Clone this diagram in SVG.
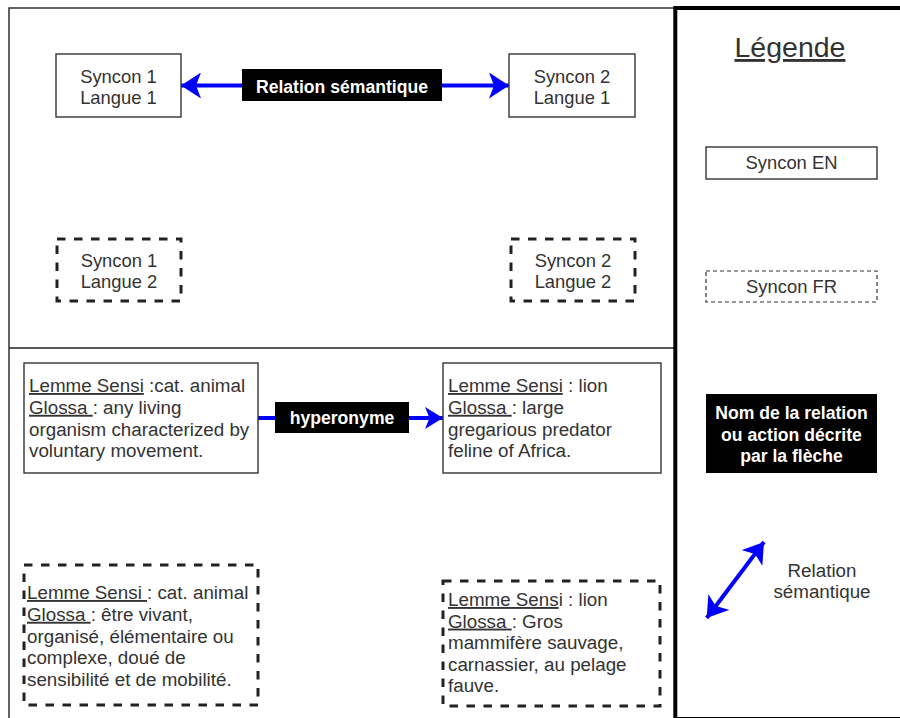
<svg xmlns="http://www.w3.org/2000/svg" width="900" height="718" viewBox="0 0 900 718">
<style>
text{font-family:"Liberation Sans",Arial,sans-serif;}
.t{fill:#333;font-size:18.4px;}
.b{fill:#333;font-size:18.8px;}
.w{fill:#fff;font-weight:bold;font-size:17.6px;}
.u{text-decoration:underline;}
.box{fill:#fff;stroke:#333;stroke-width:1.4;}
.dbox{fill:#fff;stroke:#222;stroke-width:3;stroke-dasharray:8.5 8.5;}
.lbl{fill:#000;stroke:none;}
.conn{stroke:#0000ff;stroke-width:4;fill:none;}
</style>
<defs>
<marker id="ah" viewBox="0 0 20 26" refX="20" refY="13" markerWidth="20" markerHeight="26" markerUnits="userSpaceOnUse" orient="auto-start-reverse">
<path d="M0,0 L20,13 L0,26 L5,13 Z" fill="#0000ff"/>
</marker>
<marker id="ahs" viewBox="0 0 18 22" refX="18" refY="11" markerWidth="18" markerHeight="22" markerUnits="userSpaceOnUse" orient="auto-start-reverse">
<path d="M0,0 L18,11 L0,22 L4.5,11 Z" fill="#0000ff"/>
</marker>
</defs>
<rect width="900" height="718" fill="#fff"/>
<g id="panel-main">
<rect x="9" y="8" width="666.3" height="720" fill="none" stroke="#222" stroke-width="1.4"/>
<line x1="9" y1="348" x2="675" y2="348" stroke="#222" stroke-width="1.4"/>
</g>
<g id="panel-legend">
<rect x="675.3" y="8" width="240" height="711" fill="none" stroke="#000" stroke-width="4"/>
</g>
<g id="connectors">
<line class="conn" x1="181" y1="85.5" x2="509" y2="85.5" marker-start="url(#ah)" marker-end="url(#ah)"/>
<line class="conn" x1="258" y1="418" x2="443" y2="418" marker-end="url(#ahs)"/>
<line class="conn" x1="706.7" y1="618" x2="764" y2="542" marker-start="url(#ah)" marker-end="url(#ah)"/>
</g>
<g id="label-relation">
<rect class="lbl" x="242" y="69" width="200" height="32"/>
<text class="w" x="342" y="93" text-anchor="middle">Relation sémantique</text>
</g>
<g id="label-hyperonyme">
<rect class="lbl" x="275" y="402" width="134" height="31"/>
<text class="w" x="342" y="424" text-anchor="middle">hyperonyme</text>
</g>
<g id="syncon1-l1">
<rect class="box" x="56" y="54" width="125" height="63"/>
<text class="t" x="118.5" y="82.5" text-anchor="middle">Syncon 1</text>
<text class="t" x="118.5" y="103.5" text-anchor="middle">Langue 1</text>
</g>
<g id="syncon2-l1">
<rect class="box" x="509" y="54" width="126" height="63"/>
<text class="t" x="572" y="82.5" text-anchor="middle">Syncon 2</text>
<text class="t" x="572" y="103.5" text-anchor="middle">Langue 1</text>
</g>
<g id="syncon1-l2">
<rect class="dbox" x="57" y="239" width="124" height="62"/>
<text class="t" x="119" y="267" text-anchor="middle">Syncon 1</text>
<text class="t" x="119" y="288" text-anchor="middle">Langue 2</text>
</g>
<g id="syncon2-l2">
<rect class="dbox" x="511" y="239" width="124" height="62"/>
<text class="t" x="573" y="267" text-anchor="middle">Syncon 2</text>
<text class="t" x="573" y="288" text-anchor="middle">Langue 2</text>
</g>
<g id="sensi-animal-en">
<rect class="box" x="24" y="363" width="234" height="110"/>
<text class="b" x="29" y="392" xml:space="preserve"><tspan class="u">Lemme Sensi</tspan> :cat. animal</text>
<text class="b" x="29" y="413.8" xml:space="preserve"><tspan class="u">Glossa </tspan>: any living</text>
<text class="b" x="29" y="435.6">organism characterized by</text>
<text class="b" x="29" y="457.4">voluntary movement.</text>
</g>
<g id="sensi-lion-en">
<rect class="box" x="443" y="363" width="218" height="110"/>
<text class="b" x="448" y="392" xml:space="preserve"><tspan class="u">Lemme Sensi</tspan> : lion</text>
<text class="b" x="448" y="413.8" xml:space="preserve"><tspan class="u">Glossa </tspan>: large</text>
<text class="b" x="448" y="435.6">gregarious predator</text>
<text class="b" x="448" y="457.4">feline of Africa.</text>
</g>
<g id="sensi-animal-fr">
<rect class="dbox" x="24" y="565" width="234" height="140"/>
<text class="b" x="27" y="599" xml:space="preserve"><tspan class="u">Lemme Sensi </tspan>: cat. animal</text>
<text class="b" x="27" y="620.8" xml:space="preserve"><tspan class="u">Glossa </tspan>: être vivant,</text>
<text class="b" x="27" y="642.6">organisé, élémentaire ou</text>
<text class="b" x="27" y="664.4">complexe, doué de</text>
<text class="b" x="27" y="686.2">sensibilité et de mobilité.</text>
</g>
<g id="sensi-lion-fr">
<rect class="dbox" x="443" y="581" width="217" height="125"/>
<text class="b" x="448" y="606" xml:space="preserve"><tspan class="u">Lemme Sens</tspan>i : lion</text>
<text class="b" x="448" y="627.6" xml:space="preserve"><tspan class="u">Glossa </tspan>: Gros</text>
<text class="b" x="448" y="649.2">mammifère sauvage,</text>
<text class="b" x="448" y="670.8">carnassier, au pelage</text>
<text class="b" x="448" y="692.4">fauve.</text>
</g>
<g id="legend-title">
<text class="u" x="790" y="57" text-anchor="middle" font-size="28.5" fill="#333">Légende</text>
</g>
<g id="legend-en">
<rect class="box" x="706" y="147" width="171" height="32"/>
<text class="t" x="791.5" y="169.3" text-anchor="middle">Syncon EN</text>
</g>
<g id="legend-fr">
<rect x="706" y="271" width="171" height="31" fill="#fff" stroke="#333" stroke-width="1.2" stroke-dasharray="4 3"/>
<text class="t" x="791.5" y="293.3" text-anchor="middle">Syncon FR</text>
</g>
<g id="legend-label">
<rect class="lbl" x="706" y="394" width="171" height="79"/>
<text class="w" x="791.5" y="419.3" text-anchor="middle" font-size="17.3">Nom de la relation</text>
<text class="w" x="791.5" y="440.8" text-anchor="middle" font-size="17.3">ou action décrite</text>
<text class="w" x="791.5" y="461.5" text-anchor="middle" font-size="17.3">par la flèche</text>
</g>
<g id="legend-relation">
<text class="b" x="822" y="576.7" text-anchor="middle">Relation</text>
<text class="b" x="822" y="597.5" text-anchor="middle">sémantique</text>
</g>
</svg>
